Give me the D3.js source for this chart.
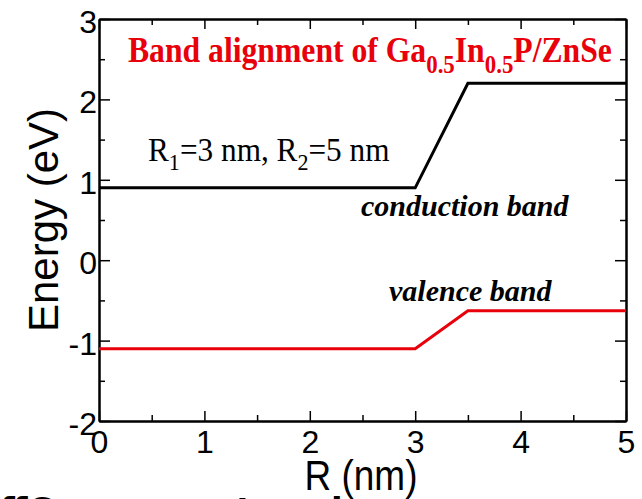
<!DOCTYPE html>
<html>
<head>
<meta charset="utf-8">
<script src="https://cdn.jsdelivr.net/npm/d3@7"></script>
<style>
  body { margin: 0; background: #fff; }
  .axis text { font-family: "Liberation Sans", Arial, sans-serif; font-size: 32px; fill: #000; }
  .axis path, .axis line { stroke: #000; }
  .axis path { stroke-width: 2px; }
  .axis line { stroke-width: 1.5px; }
</style>
</head>
<body>
<svg id="chart"></svg>
<script>
// radius (nm) and band edges (eV)
var radius = [0, 3, 3.5, 5];
var conduction = [0.9, 0.9, 2.2, 2.2];
var valence = [-1.1, -1.1, -0.63, -0.63];
var xTicks = [0, 1, 2, 3, 4, 5];
var yTicks = [-2, -1, 0, 1, 2, 3];
var xMinor = [0.5, 1.5, 2.5, 3.5, 4.5];
var yMinor = [-1.5, -0.5, 0.5, 1.5, 2.5];

var W = 642, H = 499;
var margin = { top: 19, right: 16, bottom: 78, left: 99 },
  w = W - margin.left - margin.right,
  h = H - margin.top - margin.bottom;

var svg = d3.select('#chart')
  .attr('width', W)
  .attr('height', H);

var g = svg.append('g')
  .attr('transform', 'translate(' + margin.left + ',' + margin.top + ')');

var x = d3.scaleLinear().domain([0, 5]).range([0, w]);
var y = d3.scaleLinear().domain([-2, 3]).range([h, 0]);

// major + minor ticks on all four sides, pointing inward
function frameAxis(axis, values, size, transform, labels) {
  var a = axis.tickValues(values).tickSizeInner(size).tickSizeOuter(0).tickPadding(labels ? 9 : 0);
  // plain hyphen for negatives, integers only
  a.tickFormat(labels ? function(d) { return String(d); } : '');
  var sel = g.append('g').attr('class', 'axis');
  if (transform) sel.attr('transform', transform);
  sel.call(a);
  return sel;
}

frameAxis(d3.axisBottom(x), xTicks, -10, 'translate(0,' + h + ')', true);
frameAxis(d3.axisBottom(x), xMinor, -6, 'translate(0,' + h + ')', false);
frameAxis(d3.axisTop(x), xTicks, -10, null, false);
frameAxis(d3.axisTop(x), xMinor, -6, null, false);

var yl = frameAxis(d3.axisLeft(y), yTicks, -11, null, true);
yl.selectAll('text').attr('dx', '7px').attr('dy', '0.42em');
frameAxis(d3.axisLeft(y), yMinor, -6, null, false);
frameAxis(d3.axisRight(y), yTicks, -11, 'translate(' + w + ',0)', false);
frameAxis(d3.axisRight(y), yMinor, -6, 'translate(' + w + ',0)', false);

// band lines
var pts = function(vals) { return radius.map(function(r, i) { return [r, vals[i]]; }); };
var line = d3.line()
  .x(function(d) { return x(d[0]); })
  .y(function(d) { return y(d[1]); });

g.append('path')
  .datum(pts(conduction))
  .attr('fill', 'none')
  .attr('stroke', '#000')
  .attr('stroke-width', 3)
  .attr('d', line);

g.append('path')
  .datum(pts(valence))
  .attr('fill', 'none')
  .attr('stroke', '#e8000b')
  .attr('stroke-width', 3)
  .attr('d', line);

// axis titles
svg.append('text')
  .attr('transform', 'translate(361,490) scale(0.88,1)')
  .attr('text-anchor', 'middle')
  .style('font-family', '"Liberation Sans", Arial, sans-serif')
  .style('font-size', '42px')
  .text('R (nm)');

svg.append('text')
  .attr('transform', 'translate(58,220) rotate(-90)')
  .attr('text-anchor', 'middle')
  .style('font-family', '"Liberation Sans", Arial, sans-serif')
  .style('font-size', '42px')
  .text('Energy (eV)');

// title with subscripts
var title = svg.append('text')
  .attr('transform', 'translate(128,62) scale(0.88,1)')
  .style('font-family', '"Liberation Serif", "Times New Roman", serif')
  .style('font-weight', 'bold')
  .style('font-size', '36px')
  .attr('fill', '#e8000b');
title.append('tspan').text('Band alignment of Ga');
title.append('tspan').attr('dy', 11).style('font-size', '26px').text('0.5');
title.append('tspan').attr('dy', -11).text('In');
title.append('tspan').attr('dy', 11).style('font-size', '26px').text('0.5');
title.append('tspan').attr('dy', -11).text('P/ZnSe');

// radii annotation
var rad = svg.append('text')
  .attr('transform', 'translate(148,161) scale(0.92,1)')
  .style('font-family', '"Liberation Serif", "Times New Roman", serif')
  .style('font-size', '34px')
  .attr('fill', '#000');
rad.append('tspan').text('R');
rad.append('tspan').attr('dy', 9).style('font-size', '24px').text('1');
rad.append('tspan').attr('dy', -9).text('=3 nm, R');
rad.append('tspan').attr('dy', 9).style('font-size', '24px').text('2');
rad.append('tspan').attr('dy', -9).text('=5 nm');

// band labels
svg.append('text')
  .attr('x', 361).attr('y', 216)
  .style('font-family', '"Liberation Serif", "Times New Roman", serif')
  .style('font-weight', 'bold').style('font-style', 'italic')
  .style('font-size', '30px')
  .text('conduction band');

svg.append('text')
  .attr('x', 389).attr('y', 301)
  .style('font-family', '"Liberation Serif", "Times New Roman", serif')
  .style('font-weight', 'bold').style('font-style', 'italic')
  .style('font-size', '30px')
  .text('valence band');

// clipped slide text below the figure
[['ffC', 0], ['t', 236], ['l', 331]].forEach(function(d) {
  svg.append('text')
    .attr('x', d[1]).attr('y', 522)
    .style('font-family', '"DejaVu Sans", sans-serif')
    .style('font-weight', 'bold')
    .style('font-size', '34px')
    .text(d[0]);
});
</script>
</body>
</html>
